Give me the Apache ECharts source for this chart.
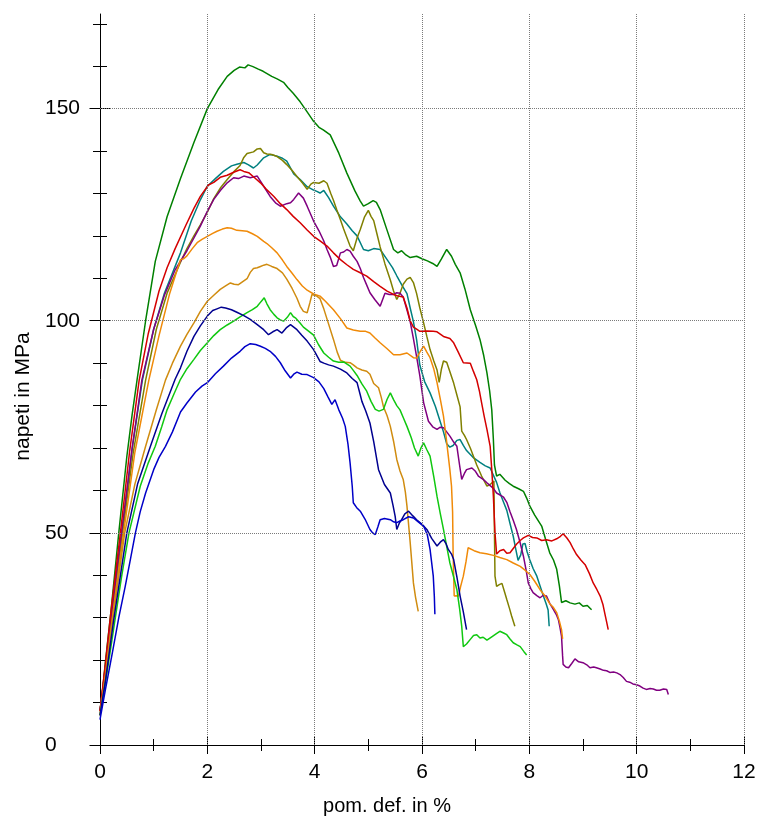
<!DOCTYPE html>
<html>
<head>
<meta charset="utf-8">
<title>napeti / pom. def.</title>
<script src="https://cdn.jsdelivr.net/npm/echarts@6/dist/echarts.min.js"></script>
<style>
  html, body { margin: 0; padding: 0; background: #fff; }
  #chart { width: 760px; height: 821px; }
</style>
</head>
<body>
<div id="chart"></div>
<script>
// Stress-strain curves of ten specimens: [strain %, stress MPa]
const specimenDarkGreen = [[0,8],[0.05,13],[0.1,19.5],[0.2,31],[0.35,50],[0.5,68],[0.6,78],[0.69,86],[0.85,100],[1.03,114],[1.25,124.5],[1.5,133.5],[1.75,142],[2.0,150],[2.2,154.5],[2.37,157.6],[2.5,159],[2.6,159.8],[2.7,159.6],[2.76,160.3],[2.85,159.9],[2.95,159.3],[3.04,158.8],[3.2,157.6],[3.3,157],[3.42,156.2],[3.5,155],[3.6,153.6],[3.73,151.6],[3.85,149.4],[3.98,147],[4.08,145.6],[4.16,145],[4.29,143.8],[4.45,139.5],[4.6,134.8],[4.75,130.6],[4.85,128.2],[4.91,127],[5.0,127.6],[5.09,128.3],[5.15,127.9],[5.22,126.2],[5.35,121.3],[5.47,116.8],[5.55,116],[5.62,116.5],[5.7,115.5],[5.78,114.9],[5.9,115.2],[6.0,114.6],[6.1,114.1],[6.2,113.5],[6.28,112.8],[6.36,114.5],[6.46,116.8],[6.55,115.2],[6.62,113.3],[6.71,111.3],[6.8,107.5],[6.9,102.6],[7.0,98.8],[7.08,95.6],[7.15,91.8],[7.21,87.7],[7.26,83.5],[7.30,79],[7.33,72],[7.35,66],[7.39,63.4],[7.45,63.8],[7.55,62.4],[7.63,61.6],[7.7,61],[7.8,60.4],[7.89,59.8],[7.95,58.2],[8.01,56.3],[8.1,54.2],[8.23,51.6],[8.3,48.6],[8.38,45.3],[8.45,43.6],[8.51,41.4],[8.56,37.5],[8.6,33.6],[8.68,34],[8.76,33.5],[8.85,33.2],[8.93,33.5],[9.0,32.7],[9.08,32.9],[9.16,31.9]];

const specimenTeal = [[0,8],[0.1,18],[0.2,29],[0.41,50],[0.6,70],[0.79,86],[1.0,98],[1.2,106.5],[1.5,116],[1.7,123.5],[1.87,128.5],[2.0,131.7],[2.15,133.5],[2.3,135.2],[2.45,136.5],[2.55,136.9],[2.68,137.3],[2.76,136.8],[2.86,136],[2.93,136.7],[3.05,138.4],[3.17,139.2],[3.3,138.8],[3.4,138.3],[3.48,137.6],[3.61,134.6],[3.73,133.3],[3.86,131.6],[3.98,130.8],[4.04,130.5],[4.1,130.1],[4.17,130.7],[4.26,129],[4.35,127],[4.48,124.5],[4.6,122.8],[4.7,121.2],[4.79,120],[4.91,116.8],[5.0,116.5],[5.1,117],[5.22,116.8],[5.35,114.4],[5.45,112.5],[5.53,110.6],[5.62,108.5],[5.72,106.4],[5.78,103],[5.84,99.8],[5.9,95.5],[5.96,89.5],[6.05,85.6],[6.15,83],[6.25,79.8],[6.34,76.2],[6.4,73.8],[6.46,71],[6.52,70.2],[6.58,70.6],[6.65,71.8],[6.71,72],[6.77,70.6],[6.83,69.4],[6.95,67.8],[7.08,66.6],[7.18,65.8],[7.27,65.3],[7.39,61.9],[7.45,59.5],[7.52,57.2],[7.58,55.3],[7.64,52.2],[7.7,49.2],[7.75,46],[7.79,43.5],[7.84,44.8],[7.88,47.4],[7.92,47.5],[7.96,45.5],[8.01,43.6],[8.07,41.6],[8.14,39.8],[8.2,37.5],[8.26,35.2],[8.31,33.4],[8.35,31.8],[8.37,28]];

const specimenOlive = [[0,8],[0.1,18],[0.2,28.5],[0.42,50],[0.62,69],[0.85,86],[1.05,98],[1.25,106.5],[1.5,113.8],[1.62,117],[1.75,120],[1.87,122.6],[2.0,125.6],[2.12,128.8],[2.25,131.4],[2.37,133.3],[2.5,135.2],[2.61,136.6],[2.68,138.5],[2.74,139.4],[2.86,139.8],[2.93,140.5],[2.99,140.6],[3.05,139.6],[3.11,139.3],[3.2,139.2],[3.3,138.7],[3.4,137.8],[3.48,136.8],[3.58,135.4],[3.67,134],[3.77,132.5],[3.86,131],[3.93,132.2],[3.98,132.6],[4.08,132.4],[4.17,133],[4.23,132.4],[4.3,130],[4.35,128.4],[4.41,126.2],[4.48,123.8],[4.54,121.6],[4.6,119.6],[4.66,117.6],[4.72,116.5],[4.79,119.5],[4.85,121.5],[4.93,124.5],[5.0,126],[5.05,124.6],[5.1,123.6],[5.16,120.5],[5.22,117.4],[5.31,113.4],[5.41,109.6],[5.47,107],[5.53,105],[5.59,106.5],[5.65,108.6],[5.72,109.8],[5.78,110.2],[5.84,109],[5.9,106.4],[5.96,103],[6.03,99.5],[6.09,96.3],[6.15,93.2],[6.22,90.5],[6.28,88.4],[6.32,85.5],[6.36,88.5],[6.4,90.5],[6.46,90.2],[6.52,88],[6.59,85.3],[6.65,82.5],[6.71,79.7],[6.74,74],[6.79,73],[6.83,72],[6.9,70],[6.96,68],[7.02,66],[7.11,63.4],[7.21,61],[7.27,61.4],[7.3,61.8],[7.34,62.2],[7.35,50],[7.36,39.8],[7.39,37.4],[7.44,37.8],[7.49,38.1],[7.54,36],[7.58,34.3],[7.63,32.2],[7.67,30.4],[7.73,28]];

const specimenRed = [[0,8],[0.1,19],[0.2,31],[0.38,50],[0.55,69],[0.73,86],[0.9,97],[1.1,107],[1.25,112.5],[1.4,117],[1.6,122.5],[1.75,126.5],[1.87,129.3],[2.02,132],[2.12,132.6],[2.24,133.8],[2.37,134.3],[2.49,135],[2.61,135.6],[2.68,135.2],[2.77,134.9],[2.88,133.7],[2.99,132.5],[3.1,131],[3.24,129.3],[3.36,127.6],[3.48,126.2],[3.6,124.6],[3.73,123.1],[3.86,121.4],[3.98,119.9],[4.1,118.8],[4.23,117.6],[4.35,116],[4.48,114.4],[4.6,113.2],[4.72,112.1],[4.85,111.3],[4.97,110.5],[5.1,109.2],[5.22,108.1],[5.35,107],[5.47,106.2],[5.56,105.8],[5.65,105.6],[5.72,103],[5.78,100],[5.84,98.5],[5.9,98],[5.96,97.5],[6.1,97.6],[6.21,97.5],[6.28,97.4],[6.4,96.3],[6.52,95.8],[6.59,94.8],[6.68,92.5],[6.77,90.1],[6.9,90],[6.96,88],[7.02,86.1],[7.07,83.4],[7.11,80.7],[7.16,77.4],[7.21,74.4],[7.27,70.4],[7.3,64.9],[7.33,58.6],[7.36,50],[7.39,45],[7.45,45.8],[7.52,46.1],[7.58,45.2],[7.64,45.3],[7.7,46.3],[7.76,47.3],[7.83,48.2],[7.89,48.8],[7.98,49.4],[8.06,48.9],[8.14,48.8],[8.23,48.2],[8.32,48.4],[8.42,48.1],[8.51,48.6],[8.58,49.2],[8.63,49.8],[8.7,48.8],[8.76,47.7],[8.82,46.2],[8.88,44.9],[8.96,43.6],[9.04,42.5],[9.12,40.4],[9.19,38.2],[9.26,36.6],[9.32,35.1],[9.37,33.2],[9.41,30.8],[9.44,29],[9.47,27.2]];

const specimenPurple = [[0,8],[0.1,18.5],[0.2,29.5],[0.4,50],[0.6,70],[0.78,86],[1.0,98],[1.2,106],[1.4,112],[1.62,116.5],[1.75,119.5],[1.87,122.3],[2.0,125.8],[2.12,128.6],[2.25,130.8],[2.37,132.5],[2.49,133.7],[2.58,133.5],[2.68,134.1],[2.8,133.7],[2.93,134.1],[3.05,131.7],[3.17,129.3],[3.27,127.8],[3.36,127],[3.48,127.6],[3.55,127.8],[3.61,128.6],[3.7,130.1],[3.79,128.9],[3.86,127],[3.98,123.5],[4.08,121.2],[4.17,118.8],[4.23,116.8],[4.29,115],[4.35,112.8],[4.41,113],[4.48,116],[4.54,116.2],[4.6,116.8],[4.66,116.4],[4.72,115.2],[4.79,114],[4.85,112.3],[4.91,110.2],[4.97,108.4],[5.03,106.6],[5.12,105],[5.22,103.4],[5.31,106.5],[5.39,106.2],[5.47,106.2],[5.53,106.6],[5.59,106.5],[5.65,105.6],[5.72,102.5],[5.78,99.8],[5.84,95.8],[5.9,91.5],[5.96,87],[6.03,80.7],[6.12,76.3],[6.2,75],[6.28,74.4],[6.34,74.9],[6.4,74.8],[6.46,73.8],[6.52,72.8],[6.59,71.4],[6.65,70.4],[6.7,66],[6.74,62.6],[6.79,64],[6.83,64.9],[6.93,65.3],[6.99,64.6],[7.05,63.4],[7.14,62.6],[7.21,61.8],[7.33,60.5],[7.39,59.4],[7.52,58.4],[7.58,57.2],[7.64,55],[7.7,53],[7.76,50.8],[7.83,47.6],[7.89,44.5],[7.94,41.2],[7.98,38.2],[8.03,36.8],[8.07,35.9],[8.14,35.2],[8.2,34.7],[8.26,35.3],[8.32,35.1],[8.38,33.4],[8.45,31.9],[8.5,30.8],[8.54,29.6],[8.57,27.8],[8.6,25.6],[8.62,21],[8.63,19],[8.68,18.4],[8.73,18.2],[8.79,19.2],[8.85,20.3],[8.92,19.6],[9.0,19.4],[9.07,18.9],[9.13,18.2],[9.2,18.4],[9.25,18.2],[9.32,17.9],[9.38,17.6],[9.44,17.5],[9.5,17.1],[9.57,17.2],[9.63,17],[9.69,16.6],[9.75,15.9],[9.81,15],[9.87,14.8],[9.93,14.4],[10.0,14.2],[10.06,13.9],[10.12,13.4],[10.18,13.1],[10.25,13.3],[10.31,13.2],[10.37,12.9],[10.43,12.9],[10.5,13.2],[10.56,13.1],[10.59,11.9]];

const specimenOrange = [[0,7],[0.1,16.5],[0.2,27],[0.44,50],[0.65,69],[0.91,86],[1.1,96.5],[1.3,106.5],[1.45,112.5],[1.5,114.4],[1.56,114.6],[1.62,115.3],[1.72,117],[1.81,118.4],[1.9,119.2],[2.0,119.9],[2.1,120.6],[2.18,121.1],[2.28,121.6],[2.37,121.9],[2.45,121.8],[2.55,121.3],[2.65,121.2],[2.74,121.1],[2.84,120.5],[2.93,119.9],[3.05,118.7],[3.11,118.2],[3.2,117.2],[3.3,116],[3.4,114.3],[3.48,112.8],[3.58,111.2],[3.67,109.7],[3.77,108.2],[3.86,107.2],[3.98,106.3],[4.1,105.8],[4.2,104.6],[4.35,102.6],[4.48,100.5],[4.6,98.3],[4.72,97.8],[4.85,97.5],[4.95,97.5],[5.03,97.1],[5.12,96],[5.22,94.8],[5.35,93.4],[5.47,92],[5.59,92],[5.72,92.4],[5.84,91.3],[5.9,91.2],[5.96,92.6],[6.03,94],[6.09,92.6],[6.15,91.3],[6.22,88.6],[6.28,85.4],[6.34,81.6],[6.4,77.5],[6.45,72.5],[6.49,68.1],[6.52,64.8],[6.55,61],[6.57,55],[6.58,45],[6.6,35.1],[6.64,35.2],[6.68,35.1],[6.72,37.4],[6.77,39.8],[6.82,43.2],[6.86,46.5],[6.97,45.8],[7.08,45.3],[7.2,45.1],[7.33,44.7],[7.45,44.2],[7.58,43.7],[7.7,42.9],[7.83,42.1],[7.92,41.2],[8.01,40.2],[8.1,38.6],[8.2,36.6],[8.3,35],[8.38,33.3],[8.45,32.4],[8.51,31.2],[8.56,29.2],[8.6,27.2],[8.62,25]];

const specimenOchre = [[0,7],[0.1,16],[0.2,26],[0.46,50],[0.65,61.5],[0.85,70.4],[1.05,79],[1.22,86],[1.35,90],[1.5,94],[1.62,96.8],[1.75,99.5],[1.87,102.2],[2.0,104.6],[2.12,106],[2.24,107.4],[2.34,108.2],[2.43,108.9],[2.5,108.6],[2.58,108.5],[2.66,109.2],[2.74,109.9],[2.8,111.4],[2.86,112.3],[2.93,112.5],[2.99,112.8],[3.05,113.1],[3.11,113.3],[3.2,112.8],[3.3,112.3],[3.4,111.3],[3.48,109.8],[3.58,107.6],[3.67,105.3],[3.73,103.4],[3.79,102.2],[3.86,101.9],[3.91,104.2],[3.95,106.2],[4.04,105.8],[4.1,105.2],[4.17,102.8],[4.26,99.2],[4.35,95.6],[4.42,92.6],[4.48,90.7],[4.57,90.2],[4.66,90.1],[4.72,89.6],[4.79,88.9],[4.88,88.4],[4.97,88.1],[5.03,87.4],[5.1,85.2],[5.19,84.2],[5.24,82],[5.28,79.8],[5.35,77.6],[5.41,75.1],[5.47,71.6],[5.53,67.3],[5.59,64.6],[5.65,62.6],[5.69,59.6],[5.72,56.3],[5.75,52],[5.78,47.7],[5.81,43],[5.84,38.2],[5.88,34.8],[5.93,31.5]];

const specimenLime = [[0,7],[0.1,14.5],[0.25,27],[0.4,39.5],[0.54,50],[0.75,61],[0.9,66.5],[1.03,70.4],[1.15,75],[1.25,79],[1.38,82.8],[1.5,86.2],[1.62,88.7],[1.75,90.9],[1.87,93],[2.0,94.8],[2.12,96.5],[2.24,97.9],[2.37,99],[2.49,99.9],[2.61,100.9],[2.74,101.9],[2.84,102.6],[2.93,103.4],[3.0,104.5],[3.06,105.4],[3.11,104],[3.17,102.6],[3.24,101.5],[3.3,100.7],[3.36,100.2],[3.42,99.9],[3.49,100.8],[3.55,101.9],[3.6,101],[3.64,100.7],[3.72,99.6],[3.79,98.5],[3.88,97.6],[3.98,96.6],[4.07,94.4],[4.17,92.4],[4.26,91.4],[4.35,90.5],[4.45,90.2],[4.54,90.3],[4.66,89.3],[4.72,88.3],[4.79,87.1],[4.88,85.1],[4.97,83.4],[5.05,81],[5.13,79.1],[5.2,78.7],[5.28,79.1],[5.35,81.5],[5.41,83],[5.47,81.4],[5.53,80],[5.59,79],[5.65,77.2],[5.72,75.1],[5.8,72.4],[5.86,70],[5.93,68.1],[5.98,70],[6.03,71.2],[6.09,69.6],[6.15,68.1],[6.22,63.2],[6.28,58.6],[6.34,54.6],[6.4,50.8],[6.46,46.8],[6.52,42.9],[6.59,39.6],[6.65,36.6],[6.7,32.2],[6.74,28],[6.77,23.2],[6.83,23.8],[6.9,24.9],[6.96,25.8],[7.02,26],[7.08,25.2],[7.14,25.4],[7.21,24.7],[7.3,25.5],[7.38,26.2],[7.45,26.8],[7.52,26.4],[7.58,26],[7.64,25],[7.7,24.1],[7.77,23.6],[7.83,23.2],[7.9,22],[7.95,21.2]];

const specimenNavy = [[0,7],[0.1,15],[0.25,29],[0.5,50],[0.7,61.5],[0.94,70.4],[1.15,78],[1.4,86.2],[1.5,88.9],[1.62,92.8],[1.75,96.3],[1.87,98.8],[2.0,101.1],[2.1,102.4],[2.18,102.8],[2.26,103.2],[2.34,103],[2.45,102.6],[2.55,102],[2.68,101.2],[2.8,100.3],[2.93,99.1],[3.05,97.9],[3.14,96.7],[3.22,97.4],[3.3,97.9],[3.39,97.1],[3.47,98.3],[3.55,99.1],[3.61,98.5],[3.67,97.9],[3.76,96.6],[3.86,95.2],[3.98,93.2],[4.1,90.4],[4.17,90],[4.26,89.6],[4.35,89.3],[4.48,88.6],[4.6,87.7],[4.7,86.4],[4.79,85.4],[4.85,82.5],[4.88,81],[4.95,78.8],[5.03,75.9],[5.1,71.5],[5.19,64.9],[5.3,61.4],[5.41,59.4],[5.46,56.5],[5.5,53.9],[5.53,50.8],[5.58,52.4],[5.62,53.1],[5.68,54.5],[5.75,55.1],[5.83,54],[5.9,53.1],[6.0,52],[6.09,50.8],[6.18,48.7],[6.28,46.9],[6.34,47.8],[6.4,48.4],[6.45,47.4],[6.49,46.1],[6.55,45],[6.59,43.7],[6.65,39.6],[6.71,35.1],[6.77,31.4],[6.83,27.2]];

const specimenBlue = [[0,6],[0.1,13],[0.23,21.7],[0.35,30],[0.47,37.4],[0.57,44],[0.66,50],[0.75,55],[0.85,59.4],[1.0,64.9],[1.1,67.8],[1.22,70.4],[1.35,73.8],[1.5,78.5],[1.62,80.6],[1.78,83.2],[1.9,84.6],[2.0,85.4],[2.15,87.5],[2.3,89.3],[2.45,91.2],[2.61,92.8],[2.7,93.9],[2.8,94.6],[2.9,94.4],[2.99,94],[3.08,93.5],[3.17,92.8],[3.27,91.6],[3.36,90.1],[3.45,88.2],[3.55,86.5],[3.61,87.4],[3.67,87.9],[3.76,87.4],[3.86,87.3],[3.98,86.6],[4.08,85.6],[4.17,84],[4.25,82],[4.32,80.3],[4.38,81.4],[4.45,79],[4.52,77],[4.57,75.1],[4.62,71],[4.66,66.5],[4.7,61],[4.72,57.1],[4.78,56],[4.85,55.1],[4.94,53.2],[5.03,50.8],[5.08,50],[5.13,49.6],[5.18,51.5],[5.22,53.1],[5.3,53.4],[5.41,53.1],[5.47,52.6],[5.53,52.4],[5.59,52.8],[5.65,53.1],[5.75,53.8],[5.84,53.5],[5.93,52.6],[6.03,51.6],[6.1,49.5],[6.15,46.1],[6.18,43],[6.21,39.8],[6.23,35],[6.24,30.8]];

// Axis ticks, labels and grid lines
const xMajorTicks = [0, 2, 4, 6, 8, 10, 12];
const xMinorTicks = [1, 3, 5, 7, 9, 11];
const yMajorTicks = [0, 50, 100, 150];
const yMinorTicks = [10, 20, 30, 40, 60, 70, 80, 90, 110, 120, 130, 140, 160, 170];
const xGridLines = [2, 4, 6, 8, 10, 12];
const yGridLines = [50, 100, 150];
const X_MAX = 12;
const Y_MAX = 172.3;

const curves = [
  { data: specimenDarkGreen, color: '#008000' },
  { data: specimenTeal,      color: '#008080' },
  { data: specimenOlive,     color: '#808000' },
  { data: specimenPurple,    color: '#800080' },
  { data: specimenRed,       color: '#d40000' },
  { data: specimenOrange,    color: '#f08a08' },
  { data: specimenOchre,     color: '#d08c10' },
  { data: specimenLime,      color: '#10c810' },
  { data: specimenNavy,      color: '#000090' },
  { data: specimenBlue,      color: '#0000c8' }
];

const FONT = '"Liberation Sans", Arial, sans-serif';
const black = '#000000';

function yAxisBase(extra) {
  return Object.assign({
    type: 'value', min: 0, max: Y_MAX, position: 'left',
    axisLine: { show: false }, axisTick: { show: false },
    axisLabel: { show: false }, splitLine: { show: false }
  }, extra);
}
function xAxisBase(extra) {
  return Object.assign({
    type: 'value', min: 0, max: X_MAX, position: 'bottom',
    axisLine: { show: false }, axisTick: { show: false },
    axisLabel: { show: false }, splitLine: { show: false }
  }, extra);
}

const chart = echarts.init(document.getElementById('chart'), null, { renderer: 'canvas' });

const series = [{
  // carries the dotted grid lines underneath the curves
  type: 'line', data: [], z: 1, silent: true,
  markLine: {
    silent: true, animation: false,
    symbol: ['none', 'none'],
    label: { show: false },
    lineStyle: { color: '#7a7a7a', type: [1, 1], width: 1 },
    data: yGridLines.map(v => ({ yAxis: v })).concat(xGridLines.map(v => ({ xAxis: v })))
  }
}].concat(curves.map(c => ({
  type: 'line', data: c.data, z: 2,
  showSymbol: false, symbol: 'none', smooth: false,
  lineStyle: { color: c.color, width: 1.5 },
  itemStyle: { color: c.color },
  emphasis: { disabled: true }
})));

chart.setOption({
  animation: false,
  backgroundColor: '#ffffff',
  grid: { left: 100, right: 16, top: 14, bottom: 76, containLabel: false },
  xAxis: [
    xAxisBase({
      interval: 2,
      axisLine: { show: true, lineStyle: { color: black, width: 1 } },
      axisLabel: { show: true, customValues: xMajorTicks, color: black, fontSize: 21, fontFamily: FONT, margin: 17 },
      name: 'pom. def. in %', nameLocation: 'middle', nameGap: 51,
      nameTextStyle: { color: black, fontSize: 20, fontFamily: FONT, padding: [0, 70, 0, 0] }
    }),
    xAxisBase({ offset: -9, axisTick: { show: true, customValues: xMajorTicks, length: 18, lineStyle: { color: black, width: 1 } } }),
    xAxisBase({ offset: -6, axisTick: { show: true, customValues: xMinorTicks, length: 12, lineStyle: { color: black, width: 1 } } })
  ],
  yAxis: [
    yAxisBase({
      axisLine: { show: true, lineStyle: { color: black, width: 1 } },
      axisLabel: { show: true, customValues: yMajorTicks, color: black, fontSize: 21, fontFamily: FONT, align: 'left', margin: 55 },
      name: 'napeti in MPa', nameLocation: 'middle', nameGap: 64, nameRotate: 90,
      nameTextStyle: { color: black, fontSize: 21, fontFamily: FONT, padding: [0, 34, 0, 0] }
    }),
    yAxisBase({ offset: -10.5, axisTick: { show: true, customValues: yMajorTicks, length: 21, lineStyle: { color: black, width: 1 } } }),
    yAxisBase({ offset: -7, axisTick: { show: true, customValues: yMinorTicks, length: 14, lineStyle: { color: black, width: 1 } } })
  ],
  series: series
});
</script>
</body>
</html>
